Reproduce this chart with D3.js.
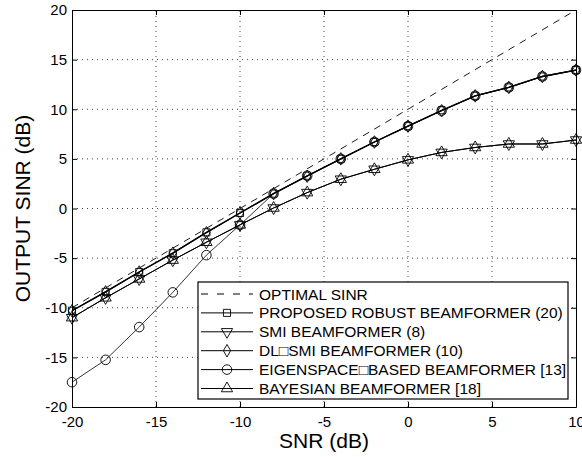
<!DOCTYPE html>
<html>
<head>
<meta charset="utf-8">
<script src="https://cdn.jsdelivr.net/npm/d3@7"></script>
<style>
  body { margin: 0; background: #fff; }
  text { font-family: "Liberation Sans", Arial, Helvetica, sans-serif; fill: #000; }
</style>
</head>
<body>
<svg id="chart" width="582" height="457"></svg>
<script>
// data
var snr = [-20, -18, -16, -14, -12, -10, -8, -6, -4, -2, 0, 2, 4, 6, 8, 10]
var optimalSnr = [-20, 10]
var optimal = [-10, 20]
var proposed = [-10.3, -8.4, -6.4, -4.5, -2.4, -0.45, 1.5, 3.3, 5.0, 6.7, 8.3, 9.9, 11.35, 12.2, 13.3, 13.95]
var smi = [-11.0, -9.0, -7.1, -5.2, -3.4, -1.65, 0.05, 1.6, 2.95, 3.95, 4.9, 5.65, 6.15, 6.5, 6.5, 6.9]
var dlsmi = [-10.3, -8.4, -6.4, -4.5, -2.45, -0.45, 1.5, 3.25, 5.0, 6.7, 8.3, 9.85, 11.35, 12.2, 13.3, 13.95]
var eigen = [-17.5, -15.25, -11.95, -8.45, -4.7, -1.65, 1.5, 3.3, 5.0, 6.7, 8.3, 9.85, 11.35, 12.2, 13.3, 13.95]
var bayes = [-11.0, -9.0, -7.1, -5.2, -3.4, -1.65, 0.05, 1.6, 2.95, 3.95, 4.9, 5.65, 6.15, 6.5, 6.5, 6.9]

var xTicks = [-20, -15, -10, -5, 0, 5, 10]
var yTicks = [-20, -15, -10, -5, 0, 5, 10, 15, 20]

var labels = ["OPTIMAL SINR", "PROPOSED ROBUST BEAMFORMER (20)", "SMI BEAMFORMER (8)",
  "DL\u25A1SMI BEAMFORMER (10)", "EIGENSPACE\u25A1BASED BEAMFORMER [13]", "BAYESIAN BEAMFORMER [18]"]

var svg = d3.select("#chart"),
  margin = {top: 10, left: 72, bottom: 50, right: 6},
  width = +svg.attr("width"),
  height = +svg.attr("height");

var x = d3.scaleLinear().domain([-20, 10]).range([margin.left, width - margin.right])
var y = d3.scaleLinear().domain([-20, 20]).range([height - margin.bottom, margin.top])

var fmt = d => String(d)

// grid
svg.append("g").selectAll("line")
  .data(xTicks.slice(1, -1))
  .enter().append("line")
    .attr("x1", d => x(d)).attr("x2", d => x(d))
    .attr("y1", y(-20)).attr("y2", y(20))
    .attr("stroke", "#444").attr("stroke-dasharray", "1,4")

svg.append("g").selectAll("line")
  .data(yTicks.slice(1, -1))
  .enter().append("line")
    .attr("y1", d => y(d)).attr("y2", d => y(d))
    .attr("x1", x(-20)).attr("x2", x(10))
    .attr("stroke", "#444").attr("stroke-dasharray", "1,4")

// axes with inward ticks
svg.append("g")
  .attr("transform", `translate(0,${y(-20)})`)
  .call(d3.axisBottom(x).tickValues(xTicks).tickFormat(fmt).tickSize(-5).tickPadding(9).tickSizeOuter(0))
svg.append("g")
  .attr("transform", `translate(0,${y(20)})`)
  .call(d3.axisTop(x).tickValues(xTicks).tickSize(-5).tickFormat("").tickSizeOuter(0))
svg.append("g")
  .attr("transform", `translate(${x(-20)},0)`)
  .call(d3.axisLeft(y).tickValues(yTicks).tickFormat(fmt).tickSize(-5).tickPadding(5).tickSizeOuter(0))
svg.append("g")
  .attr("transform", `translate(${x(10)},0)`)
  .call(d3.axisRight(y).tickValues(yTicks).tickSize(-5).tickFormat("").tickSizeOuter(0))

svg.selectAll(".tick text").style("font-size", "15px").style("font-family", "Liberation Sans, Arial, sans-serif")
svg.selectAll(".domain").attr("stroke", "#000")

// plot series
var line = d3.line().x(d => x(d[0])).y(d => y(d[1]))

svg.append("path")
  .datum(optimalSnr.map((s, i) => [s, optimal[i]]))
  .attr("d", line).attr("fill", "none").attr("stroke", "#000")
  .attr("stroke-width", 0.9).attr("stroke-dasharray", "7,6")

var sym = {
  square: d3.symbol().type(d3.symbolSquare).size(50),
  down: d3.symbol().type(d3.symbolTriangle).size(55),
  diamond: d3.symbol().type(d3.symbolDiamond).size(45),
  circle: d3.symbol().type(d3.symbolCircle).size(72),
  up: d3.symbol().type(d3.symbolTriangle).size(55)
}

var series = [
  {vals: eigen, mk: "circle", w: 0.8},
  {vals: smi, mk: "down", w: 1},
  {vals: bayes, mk: "up", w: 1},
  {vals: proposed, mk: "square", w: 1.3},
  {vals: dlsmi, mk: "diamond", w: 1.3}
]

series.forEach(function(s) {
  var pts = snr.map((v, i) => [v, s.vals[i]])
  svg.append("path")
    .datum(pts)
    .attr("d", line).attr("fill", "none").attr("stroke", "#000").attr("stroke-width", s.w)
  svg.append("g").selectAll("path")
    .data(pts)
    .enter().append("path")
      .attr("d", sym[s.mk])
      .attr("transform", d => `translate(${x(d[0])},${y(d[1])})` + (s.mk == "down" ? " rotate(180)" : ""))
      .attr("fill", "none").attr("stroke", "#000").attr("stroke-width", 0.9)
})

// legend
var legend = svg.append("g").attr("transform", "translate(198,282)")
legend.append("rect")
  .attr("width", 370).attr("height", 117)
  .attr("fill", "#fff").attr("stroke", "#000").attr("stroke-width", 1.2)

var legMk = [null, "square", "down", "diamond", "circle", "up"]
var rows = legend.selectAll("g.row")
  .data(labels)
  .enter().append("g")
    .attr("class", "row")
    .attr("transform", (d, i) => `translate(0,${12 + i * 18.9})`)

rows.append("line")
  .attr("x1", 3).attr("x2", 55)
  .attr("stroke", "#000").attr("stroke-width", 1)
  .attr("stroke-dasharray", (d, i) => i == 0 ? "7,9" : null)

rows.filter((d, i) => i > 0).append("path")
  .attr("d", (d, i) => sym[legMk[i + 1]]())
  .attr("transform", (d, i) => "translate(29,0)" + (legMk[i + 1] == "down" ? " rotate(180)" : ""))
  .attr("fill", "none").attr("stroke", "#000").attr("stroke-width", 0.9)

rows.append("text")
  .attr("x", 61).attr("dy", "0.36em")
  .style("font-size", "15.5px")
  .text(d => d)

// axis titles
svg.append("text")
  .attr("x", x(-5)).attr("y", 448)
  .attr("text-anchor", "middle")
  .style("font-size", "21px")
  .text("SNR (dB)")

svg.append("text")
  .attr("transform", `translate(30,${y(0)}) rotate(-90)`)
  .attr("text-anchor", "middle")
  .style("font-size", "21px")
  .text("OUTPUT SINR (dB)")
</script>
</body>
</html>
